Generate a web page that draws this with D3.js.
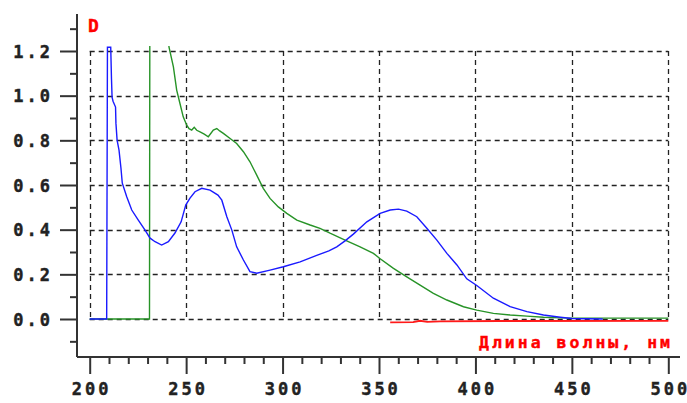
<!DOCTYPE html>
<html>
<head>
<meta charset="utf-8">
<script src="https://cdn.jsdelivr.net/npm/d3@7"></script>
<style>
  body { margin: 0; background: #fff; }
  svg { display: block; }
  .lbl { font-family: "DejaVu Sans Mono", monospace; font-weight: bold; }
</style>
</head>
<body>
<svg class="chart" width="687" height="403"></svg>
<script>
// spectra
let blueWl = [200, 208.8, 209.2, 210.9, 211.3, 211.6, 212.1, 213.4, 213.6, 214.2, 215.2, 216.2, 216.9, 219.2, 221.8, 225.2, 228.7, 231.3, 233.9, 237.3, 240.8, 244.2, 247.4, 249.8, 252.0, 254.6, 258.1, 262.4, 266.5, 268.5, 271.1, 273.7, 276.2, 279.7, 283.1, 286.6, 293.5, 300.4, 309.1, 317.7, 324.0, 328.1, 332.4, 336.7, 343.7, 350.6, 355.8, 360.1, 364.4, 369.6, 374.8, 380.0, 385.2, 390.4, 395.5, 400.7, 409.3, 418.0, 426.7, 435.3, 444.0, 450.0, 466.0];
let blueD  = [0, 0, 1.217, 1.217, 1.074, 0.993, 0.975, 0.949, 0.877, 0.801, 0.756, 0.676, 0.608, 0.547, 0.488, 0.443, 0.398, 0.362, 0.346, 0.331, 0.346, 0.385, 0.435, 0.510, 0.541, 0.570, 0.585, 0.577, 0.555, 0.532, 0.458, 0.398, 0.323, 0.264, 0.212, 0.205, 0.219, 0.234, 0.256, 0.285, 0.305, 0.323, 0.350, 0.380, 0.435, 0.473, 0.488, 0.492, 0.483, 0.458, 0.406, 0.353, 0.294, 0.242, 0.180, 0.150, 0.093, 0.055, 0.033, 0.018, 0.008, 0.002, 0.0];

let greenWl = [200, 231.0, 231.2, 240.0, 241.1, 243.4, 245.1, 246.8, 248.5, 250.3, 251.5, 252.9, 254.2, 255.5, 257.2, 259.4, 261.5, 264.1, 265.9, 267.4, 269.3, 272.8, 276.2, 279.7, 283.1, 286.6, 290.0, 293.5, 297.8, 302.2, 307.4, 314.3, 319.4, 324.6, 332.4, 340.2, 347.1, 350.6, 357.5, 364.4, 371.3, 378.2, 385.2, 393.8, 400.7, 409.3, 418.0, 426.7, 435.3, 444.0, 470.0, 500.0];
let greenD  = [0, 0, 1.5, 1.5, 1.218, 1.129, 1.025, 0.965, 0.905, 0.868, 0.852, 0.846, 0.858, 0.845, 0.838, 0.828, 0.816, 0.846, 0.853, 0.842, 0.831, 0.808, 0.786, 0.749, 0.704, 0.644, 0.585, 0.540, 0.502, 0.473, 0.443, 0.421, 0.406, 0.384, 0.353, 0.323, 0.294, 0.270, 0.227, 0.189, 0.152, 0.115, 0.085, 0.055, 0.040, 0.025, 0.018, 0.013, 0.008, 0.005, 0.004, 0.004];

let redWl = [355.8, 367.7, 371.3, 375.0, 381.7, 412.8, 500.0];
let redD  = [-0.015, -0.014, -0.008, -0.013, -0.011, -0.009, -0.008];

let xMajor = [200, 250, 300, 350, 400, 450, 500];
let xMinor = d3.range(200, 501, 10);
let yMajor = [0, 0.2, 0.4, 0.6, 0.8, 1.0, 1.2];
let yMinor = [-0.1, 0.1, 0.3, 0.5, 0.7, 0.9, 1.1, 1.3];
let yLabels = ['0.0', '0.2', '0.4', '0.6', '0.8', '1.0', '1.2'];

let svg = d3.select(".chart");
let x = d3.scaleLinear().domain([200, 500]).range([89.7, 668.3]);
let y = d3.scaleLinear().domain([0, 1.2]).range([319, 51]);
let axisX = 77, axisY = 357;

// grid
let grid = svg.append("g").attr("stroke", "#222").attr("stroke-width", 1.3).attr("stroke-dasharray", "5,4");
grid.selectAll(".hg").data(yMajor).enter().append("line")
    .attr("x1", x(200)).attr("x2", x(500))
    .attr("y1", d => Math.round(y(d)) + 0.5).attr("y2", d => Math.round(y(d)) + 0.5);
grid.selectAll(".vg").data(xMajor).enter().append("line")
    .attr("y1", y(1.2)).attr("y2", y(0))
    .attr("x1", d => Math.round(x(d)) + 0.5).attr("x2", d => Math.round(x(d)) + 0.5);

// axes
let ax = svg.append("g").attr("stroke", "#333").attr("stroke-width", 2);
ax.append("line").attr("x1", axisX).attr("x2", axisX).attr("y1", 14).attr("y2", axisY);
ax.append("line").attr("x1", axisX).attr("x2", 680).attr("y1", axisY).attr("y2", axisY);

let yAxis = d3.axisLeft(y).tickValues(yMajor).tickSize(17).tickFormat((d, i) => yLabels[i]);
let gy = svg.append("g").attr("transform", "translate(" + axisX + ",0)").call(yAxis);
gy.select(".domain").remove();
gy.selectAll(".tick line").attr("stroke", "#333").attr("stroke-width", 2);
gy.selectAll(".tick text").attr("class", "lbl").attr("fill", "#222").attr("font-size", 17)
    .attr("stroke", "#222").attr("stroke-width", 0.4)
    .attr("letter-spacing", 3).attr("x", -24).attr("dy", "0.36em");

let gym = svg.append("g").attr("transform", "translate(" + axisX + ",0)")
    .call(d3.axisLeft(y).tickValues(yMinor).tickSize(7).tickFormat(""));
gym.select(".domain").remove();
gym.selectAll(".tick line").attr("stroke", "#333").attr("stroke-width", 2);

let xAxis = d3.axisBottom(x).tickValues(xMajor).tickSize(17).tickFormat(d3.format("d"));
let gx = svg.append("g").attr("transform", "translate(0," + axisY + ")").call(xAxis);
gx.select(".domain").remove();
gx.selectAll(".tick line").attr("stroke", "#333").attr("stroke-width", 2);
gx.selectAll(".tick text").attr("class", "lbl").attr("fill", "#222").attr("font-size", 17)
    .attr("stroke", "#222").attr("stroke-width", 0.4)
    .attr("letter-spacing", 3).attr("dx", 1.5).attr("y", 32).attr("dy", "0.36em");

let gxm = svg.append("g").attr("transform", "translate(0," + axisY + ")")
    .call(d3.axisBottom(x).tickValues(xMinor.filter(v => xMajor.indexOf(v) < 0)).tickSize(7).tickFormat(""));
gxm.select(".domain").remove();
gxm.selectAll(".tick line").attr("stroke", "#333").attr("stroke-width", 2);

// curves
svg.append("clipPath").attr("id", "plotclip").append("rect")
    .attr("x", axisX + 2).attr("y", y(1.222)).attr("width", 600).attr("height", axisY - y(1.222) - 2);

function series(wl, vals) {
    return wl.map((w, i) => [w, vals[i]]);
}
let line = d3.line().x(d => x(d[0])).y(d => y(d[1]));
let curves = svg.append("g").attr("clip-path", "url(#plotclip)").attr("fill", "none").attr("stroke-width", 1.4);
curves.append("path").attr("d", line(series(greenWl, greenD))).attr("stroke", "#279327");
curves.append("path").attr("d", line(series(blueWl, blueD))).attr("stroke", "#1a1aff");
curves.append("path").attr("d", line(series(redWl, redD))).attr("stroke", "#ff1a1a").attr("stroke-width", 1.8);

// labels
svg.append("text").attr("class", "lbl").attr("x", 88).attr("y", 32)
    .attr("font-size", 18).attr("fill", "#ff0000").attr("stroke", "#ff0000").attr("stroke-width", 0.4).text("D");
svg.append("text").attr("class", "lbl").attr("x", 479).attr("y", 347.5)
    .attr("font-size", 16.5).attr("letter-spacing", 3).attr("fill", "#ff0000")
    .attr("stroke", "#ff0000").attr("stroke-width", 0.4).text("Длина волны, нм");
</script>
</body>
</html>
